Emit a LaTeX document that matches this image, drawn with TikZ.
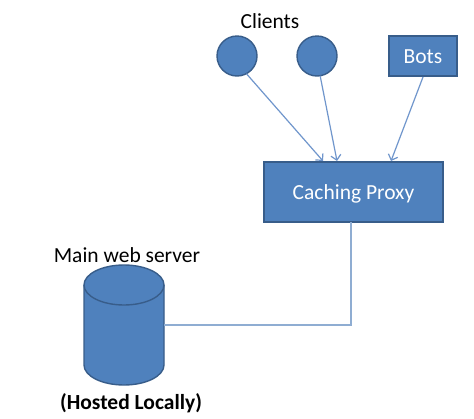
\documentclass[tikz,border=0pt]{standalone}
\usepackage{fontspec}
\setmainfont{Carlito}
\usetikzlibrary{arrows.meta}
\definecolor{shapefill}{HTML}{4F81BD}
\definecolor{shapeedge}{HTML}{385D8A}
\definecolor{linkblue}{HTML}{7096CC}
\definecolor{linkpale}{HTML}{8FADD2}
\tikzset{
  x=1pt,y=-1pt,
  shapebase/.style={draw=shapeedge,fill=shapefill,line width=1.4pt,inner sep=0pt,outer sep=0pt},
  client/.style={shapebase,circle,minimum size=40pt},
  boxnode/.style={shapebase,rectangle,text=white,font=\fontsize{21.5}{24}\selectfont},
  dbnode/.style={rectangle,inner sep=0pt,outer sep=0pt,minimum width=80pt,minimum height=120pt},
  caption/.style={inner sep=0pt,text=black,font=\fontsize{21.5}{24}\selectfont},
  link/.style={draw=linkblue,line width=1.2pt},
  tip/.style={link,-{Straight Barb[length=5pt,width=10pt,line width=1.2pt]}}
}
\begin{document}
\begin{tikzpicture}
\useasboundingbox (0,0) rectangle (474,418);
\fill[white] (0,0) rectangle (474,418);
\node[client] (c1) at (237,56) {};
\node[client] (c2) at (317,56) {};
\node[boxnode,minimum width=68pt,minimum height=40pt] (bots) at (423,56) {\raisebox{-7pt}[0pt][0pt]{Bots}};
\node[boxnode,minimum width=179pt,minimum height=60pt] (proxy) at (353.5,192) {\raisebox{-7pt}[0pt][0pt]{Caching Proxy}};
\node[dbnode] (db) at (124,325) {};
\draw[shapebase] (84,285) -- (84,365)
  arc[start angle=180,end angle=360,x radius=40pt,y radius=20pt] -- (164,285)
  arc[start angle=0,end angle=180,x radius=40pt,y radius=20pt] -- cycle;
\draw[draw=shapeedge,line width=1.4pt] (84,285) arc[start angle=180,end angle=360,x radius=40pt,y radius=20pt];
\node[caption] (clients) at (270,21) {Clients};
\node[caption] (main) at (127,255) {Main web server};
\node[caption,font=\fontsize{21.5}{24}\selectfont\bfseries] (hosted) at (131,403) {(Hosted Locally)};
\coordinate (p1) at (323,161);
\coordinate (p2) at (337,161);
\coordinate (p3) at (391,161);
\coordinate (bend) at (351,325);
\draw[tip] (c1.-62) -- (p1);
\draw[tip] (c2.-81) -- (p2);
\draw[tip] (bots) ++(0,21) -- (p3);
\draw[link,draw=linkpale,line width=1.1pt] (proxy.south -| bend) -- (bend) -- (db.east |- bend);
\end{tikzpicture}
\end{document}
